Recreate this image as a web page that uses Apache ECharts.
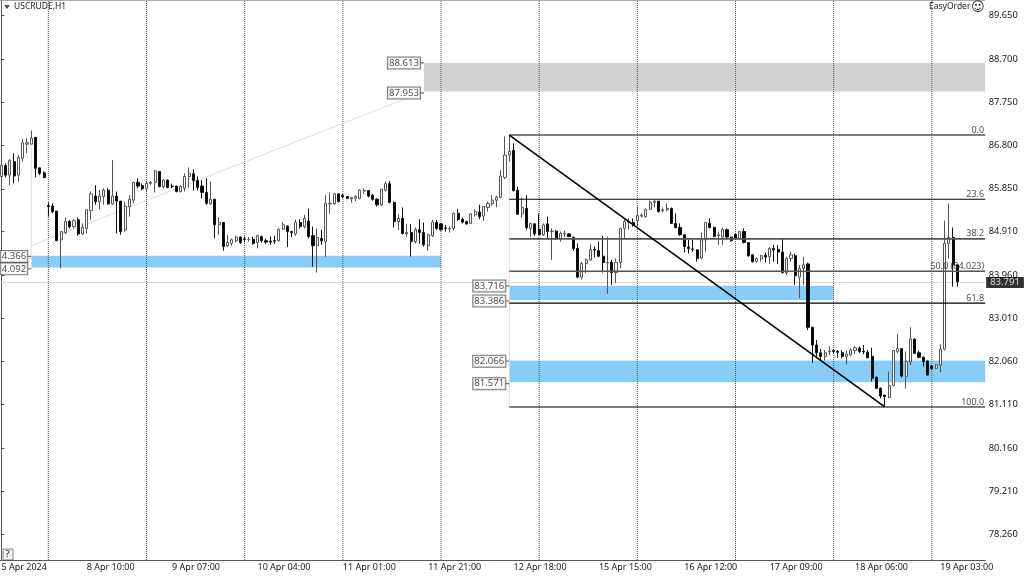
<!DOCTYPE html>
<html><head><meta charset="utf-8">
<style>html,body{margin:0;padding:0;background:#fff;overflow:hidden;width:1024px;height:576px}#c{position:absolute;left:-3px;top:0;width:1027px;height:576px}</style>
<script src="https://cdn.jsdelivr.net/npm/echarts@6/dist/echarts.min.js"></script>
</head><body><div id="c"></div>
<script>
const opens=[86.12,86.36,86.15,86.45,86.15,86.52,86.83,86.83,86.98,86.31,86.20,85.48,85.47,85.36,84.73,84.89,85.13,85.02,85.17,84.86,84.98,85.37,85.69,85.57,85.68,85.82,85.52,85.69,85.58,84.95,85.46,85.60,85.99,85.92,85.86,85.97,85.99,86.23,85.90,86.04,85.91,85.91,85.79,85.86,86.12,86.18,86.03,85.91,85.77,85.52,85.62,85.06,85.11,84.60,84.65,84.71,84.79,84.75,84.74,84.74,84.67,84.80,84.71,84.70,84.71,84.71,84.96,85.03,84.91,84.86,85.11,85.02,85.14,84.82,84.60,84.76,84.69,85.52,85.52,85.74,85.71,85.68,85.63,85.64,85.64,85.80,85.81,85.71,85.62,85.50,85.82,85.96,85.55,85.13,85.20,84.86,84.89,84.69,84.95,84.89,84.60,84.82,85.11,85.08,84.99,84.97,84.98,85.31,85.18,85.13,85.09,85.28,85.34,85.25,85.44,85.52,85.60,85.66,86.10,86.59,86.69,85.82,85.30,85.42,84.98,85.08,84.96,84.84,85.08,84.91,84.92,84.76,84.86,84.86,84.79,84.54,83.91,84.21,84.29,84.52,84.49,84.37,84.23,84.24,84.01,84.23,84.98,85.11,85.11,85.15,85.25,85.24,85.40,85.55,85.58,85.37,85.39,85.42,85.09,85.00,84.84,84.57,84.53,84.51,84.33,84.73,85.09,85.00,84.82,84.79,84.95,84.79,84.85,84.76,84.91,84.67,84.40,84.26,84.31,84.39,84.36,84.54,84.52,84.46,84.01,84.32,84.38,83.91,84.10,84.20,82.81,82.42,82.25,82.17,82.27,82.30,82.28,82.25,82.17,82.20,82.30,82.35,82.28,82.26,82.17,81.71,81.47,81.32,81.27,81.53,82.28,82.34,81.73,82.05,82.55,82.25,82.15,82.07,81.96,81.91,81.98,82.33,84.65,84.78,84.18];
const closes=[86.37,86.15,86.47,86.13,86.54,86.86,86.86,86.96,86.30,86.19,86.10,85.46,85.35,84.71,84.91,85.13,85.02,85.15,84.86,85.00,85.39,85.74,85.57,85.69,85.82,85.52,85.69,85.58,84.91,85.47,85.62,85.99,85.91,85.85,85.97,85.99,86.24,85.90,86.04,85.88,85.90,85.79,85.90,86.12,86.19,86.03,85.88,85.77,85.53,85.62,85.06,85.11,84.58,84.67,84.73,84.79,84.67,84.74,84.74,84.65,84.82,84.71,84.68,84.68,84.70,84.96,85.06,84.91,84.89,85.11,85.02,85.20,84.80,84.60,84.78,84.71,85.53,85.53,85.74,85.57,85.68,85.64,85.66,85.68,85.82,85.81,85.69,85.62,85.50,85.84,85.96,85.55,85.13,85.20,84.87,84.89,84.69,84.96,84.89,84.62,84.84,85.12,84.98,84.95,84.98,84.98,85.31,85.18,85.12,85.08,85.30,85.35,85.24,85.46,85.53,85.60,85.66,86.13,86.59,86.67,85.81,85.29,85.44,85.00,85.09,84.86,84.84,85.06,84.91,84.92,84.76,84.87,84.87,84.80,84.54,83.91,84.21,84.29,84.52,84.51,84.37,84.23,84.23,84.01,84.23,84.98,85.13,85.13,85.06,85.26,85.27,85.40,85.55,85.58,85.35,85.39,85.42,85.09,85.00,84.84,84.58,84.54,84.52,84.32,84.73,85.11,85.00,84.80,84.84,84.96,84.79,84.71,84.76,84.91,84.67,84.38,84.25,84.32,84.38,84.35,84.54,84.51,84.46,84.01,84.32,84.40,83.94,84.10,84.18,82.81,82.42,82.25,82.17,82.25,82.28,82.28,82.26,82.17,82.22,82.31,82.36,82.28,82.27,82.14,81.69,81.47,81.30,81.29,81.53,82.30,82.34,81.74,82.06,82.55,82.24,82.15,82.06,81.76,81.90,81.98,82.33,84.65,84.78,84.18,83.81];
const lows=[86.01,86.10,85.93,85.97,86.01,86.45,86.63,86.83,86.10,86.15,86.08,85.24,85.31,84.71,84.10,84.86,84.98,84.98,84.82,84.84,84.87,85.17,85.50,85.40,85.50,85.50,85.50,84.87,84.84,84.91,85.24,85.53,85.86,85.82,85.79,85.93,85.77,85.88,85.86,85.86,85.86,85.77,85.77,85.79,85.86,85.81,85.82,85.64,85.50,85.50,84.76,84.84,84.49,84.57,84.60,84.67,84.64,84.67,84.69,84.62,84.54,84.67,84.64,84.62,84.64,84.69,84.95,84.57,84.79,84.82,84.98,84.98,84.76,84.14,84.01,84.62,84.35,85.30,85.50,85.55,85.64,85.62,85.55,85.58,85.62,85.74,85.66,85.59,85.46,85.47,85.79,85.53,85.00,84.95,84.84,84.80,84.36,84.65,84.64,84.58,84.49,84.79,84.95,84.93,84.91,84.89,84.93,85.15,85.09,85.06,85.08,85.24,85.18,85.15,85.35,85.47,85.44,85.64,86.06,86.45,85.79,85.28,85.22,84.95,84.79,84.82,84.84,84.82,84.74,84.29,84.73,84.69,84.79,84.79,84.49,83.89,83.86,84.00,84.27,84.35,84.35,84.01,83.54,83.74,83.78,84.10,84.76,84.96,85.02,85.03,85.22,85.22,85.39,85.44,85.33,85.33,85.36,85.08,84.98,84.82,84.45,84.43,84.47,84.25,84.30,84.47,84.98,84.79,84.62,84.62,84.76,84.69,84.74,84.74,84.65,84.36,84.23,84.23,84.25,84.23,84.20,84.25,84.20,83.99,83.96,84.25,83.74,83.45,83.74,82.75,82.03,82.13,82.09,82.08,82.20,82.24,82.14,82.13,82.00,82.19,82.22,82.24,82.22,82.13,81.62,81.45,81.25,81.07,81.25,81.51,82.24,81.71,81.46,81.98,82.22,82.13,81.95,81.75,81.87,81.89,81.82,82.30,84.32,83.70,83.70];
const highs=[86.41,86.41,86.50,86.63,86.59,86.94,86.96,87.13,86.98,86.31,86.23,85.55,85.53,85.36,84.91,85.22,85.17,85.18,85.22,85.09,85.40,85.79,85.93,85.82,85.86,85.86,86.48,85.79,85.58,85.57,85.71,86.01,86.08,85.97,86.01,86.02,86.26,86.23,86.06,86.06,85.96,85.91,85.93,86.19,86.32,86.28,86.12,86.04,86.08,86.01,85.62,85.22,85.11,84.84,84.76,84.82,84.80,84.80,84.79,84.79,84.84,84.82,84.76,84.80,84.82,84.98,85.11,85.05,84.93,85.17,85.18,85.28,85.42,85.02,84.98,84.95,85.71,85.77,85.75,85.74,85.74,85.69,85.66,85.71,85.84,85.86,85.82,85.74,85.64,85.85,86.01,86.02,85.57,85.30,85.44,85.08,85.08,85.00,85.18,85.11,84.87,85.17,85.17,85.09,85.06,85.03,85.33,85.41,85.22,85.15,85.31,85.40,85.50,85.47,85.57,85.71,85.69,86.26,87.00,87.03,86.85,85.90,85.66,85.71,85.09,85.09,85.31,85.09,85.24,84.98,84.95,84.91,84.93,84.87,84.80,84.65,84.25,84.32,84.64,84.59,84.69,84.82,84.80,84.29,84.32,85.00,85.18,85.20,85.20,85.46,85.31,85.42,85.59,85.60,85.58,85.44,85.53,85.44,85.31,85.09,84.84,84.74,84.73,84.52,84.89,85.12,85.20,85.02,84.91,85.00,84.98,84.80,84.87,84.92,84.98,84.68,84.41,84.34,84.40,84.45,84.57,84.62,84.62,84.76,84.36,84.47,84.43,84.18,84.36,84.23,82.81,82.53,82.33,82.31,82.39,82.33,82.31,82.31,82.30,82.35,82.39,82.39,82.42,82.31,82.36,81.73,81.49,81.32,81.84,82.31,82.66,82.35,82.28,82.81,82.57,82.30,82.17,82.08,81.98,82.00,82.44,85.15,85.53,85.00,84.18];
const timeLabels=['5 Apr 2024','8 Apr 10:00','9 Apr 07:00','10 Apr 04:00','11 Apr 01:00','11 Apr 21:00','12 Apr 18:00','15 Apr 15:00','16 Apr 12:00','17 Apr 09:00','18 Apr 06:00','19 Apr 03:00'];
const priceTicks=[78.26,79.21,80.16,81.11,82.06,83.01,83.96,84.91,85.85,86.80,87.75,88.70,89.65];
const gridBars=[11,34,57,80,103,126,149,172,195,218];
const slotCount=231, rightEdge=230.5;
const yMin=77.70, yMax=89.973;
const lastPrice=83.791;
const fibStart=119, fibEnd=207;
const fibLevels=[87.03,85.62,84.75,84.04,83.34,81.06];
const fibTexts=['0.0','23.6','38.2','50.0 (84.023)','61.8','100.0'];
const fibSoft=[true,false,true,true,false,false];
const zones=[
  {from:99,to:rightEdge,top:88.62,bottom:87.985,color:'#d3d3d3',topPrice:88.613,bottomPrice:87.953,topText:'88.613',bottomText:'87.953'},
  {from:7,to:103,top:84.38,bottom:84.12,color:'#87cdfa',topPrice:84.366,bottomPrice:84.092,topText:'4.366',bottomText:'4.092'},
  {from:119,to:195,top:83.72,bottom:83.41,color:'#87cdfa',topPrice:83.716,bottomPrice:83.386,topText:'83.716',bottomText:'83.386'},
  {from:119,to:rightEdge,top:82.08,bottom:81.60,color:'#87cdfa',topPrice:82.066,bottomPrice:81.571,topText:'82.066',bottomText:'81.571'}];

const FONT='"Noto Sans"';
const OX=3;
const categories=Array.from({length:slotCount},(_,i)=>(i%20===0&&timeLabels[i/20])||'');
const candles=opens.map((o,i)=>[o,closes[i],lows[i],highs[i]]);

function seg(pts,color,width,z,type){
  return {type:'line',xAxisIndex:1,yAxisIndex:0,data:pts,symbol:'none',silent:true,animation:false,z:z,
    lineStyle:{color:color,width:width,type:type||'solid'}};
}
const series=[];
gridBars.forEach(b=>series.push(seg([[b,yMin],[b,yMax]],'#555',1,1,'dotted')));
series.push({type:'line',xAxisIndex:1,yAxisIndex:0,data:[],symbol:'none',silent:true,animation:false,z:2,
  markArea:{silent:true,data:zones.map(q=>[{coord:[q.from,q.top],itemStyle:{color:q.color,opacity:1}},{coord:[q.to,q.bottom]}])}});
series.push(seg([[-0.5,lastPrice],[rightEdge,lastPrice]],'#d8d8d8',1,3));
series.push(seg([[7,84.6],[99,87.985]],'#dedede',1,3));
series.push(seg([[7,87.13],[7,84.12]],'#cfe6ee',1,3));
series.push(seg([[fibStart,fibLevels[0]],[fibStart,fibLevels[5]]],'#dddddd',1,3));
series.push({type:'candlestick',xAxisIndex:0,yAxisIndex:0,data:candles,barWidth:2.6,animation:false,silent:true,z:5,
  itemStyle:{color:'#ffffff',color0:'#000000',borderColor:'#555555',borderColor0:'#111111',borderWidth:1}});
fibLevels.forEach((p,i)=>series.push(seg([[fibStart,p],[rightEdge,p]],fibSoft[i]?'#555':'#000',fibSoft[i]?1.6:1.1,6)));
series.push(seg([[fibStart,fibLevels[0]],[fibEnd,fibLevels[5]]],'#000',1.6,6));
const tags=[];
zones.forEach(q=>{
  tags.push([q.from,q.topPrice,q.topText]);tags.push([q.from,q.bottomPrice,q.bottomText]);
  series.push(seg([[q.from-1,q.topPrice],[q.from,q.topPrice]],'#555',1,7));
  series.push(seg([[q.from-1,q.bottomPrice],[q.from,q.bottomPrice]],'#555',1,7));
});
series.push({type:'scatter',xAxisIndex:1,yAxisIndex:0,data:tags,symbolSize:0,silent:true,animation:false,z:8,
  label:{show:true,position:'left',distance:4,formatter:p=>p.value[2],color:'#222',fontFamily:FONT,fontSize:9.6,
    backgroundColor:'#fff',borderColor:'#555',borderWidth:1,padding:[1,1,0,1]}});
series.push({type:'scatter',xAxisIndex:1,yAxisIndex:0,data:fibLevels.map((p,i)=>[rightEdge,p,fibTexts[i]]),symbolSize:0,silent:true,animation:false,z:8,
  label:{show:true,position:'left',distance:1,offset:[0,-5],formatter:p=>p.value[2],color:'#222',fontFamily:FONT,fontSize:9}});
series.push({type:'scatter',xAxisIndex:1,yAxisIndex:0,data:[[rightEdge,lastPrice,lastPrice.toFixed(3)]],symbolSize:0,silent:true,animation:false,z:9,
  label:{show:true,position:'right',distance:1,formatter:p=>p.value[2],color:'#fff',fontFamily:FONT,fontSize:9.5,backgroundColor:'#000',padding:[1,4,0,4]}});

const chart=echarts.init(document.getElementById('c'),null,{renderer:'canvas'});
chart.setOption({
  animation:false,backgroundColor:'#fff',
  grid:{left:2.27,top:1,width:985.9,height:559,containLabel:false},
  xAxis:[
    {type:'category',data:categories,boundaryGap:true,
     axisLine:{show:true,lineStyle:{color:'#555',width:1}},axisTick:{show:false},splitLine:{show:false},
     axisLabel:{show:true,interval:i=>i%20===0,align:'left',margin:3,color:'#222',fontFamily:FONT,fontSize:9,hideOverlap:false}},
    {type:'value',min:-0.5,max:rightEdge,show:false,splitLine:{show:false}}],
  yAxis:[{type:'value',position:'right',min:yMin,max:yMax,
     axisLine:{show:true,lineStyle:{color:'#555',width:1}},splitLine:{show:false},
     axisTick:{show:true,length:3,customValues:priceTicks,lineStyle:{color:'#555'}},
     axisLabel:{show:true,customValues:priceTicks,margin:3.5,color:'#222',fontFamily:FONT,fontSize:9.3,formatter:v=>(+v).toFixed(3)}}],
  series:series,
  graphic:[
    {type:'line',silent:true,shape:{x1:OX+1.5,y1:0,x2:OX+1.5,y2:560},style:{stroke:'#555',lineWidth:1}},
    {type:'line',silent:true,shape:{x1:OX,y1:0.5,x2:OX+985,y2:0.5},style:{stroke:'#aaa',lineWidth:1}},
    {type:'polygon',silent:true,shape:{points:[[OX+4,5],[OX+10,5],[OX+7,9]]},style:{fill:'#555'}},
    {type:'text',silent:true,x:OX+14,y:2,style:{text:'USCRUDE,H1',fill:'#222',font:'8.5px '+FONT}},
    {type:'text',silent:true,x:OX+929,y:2,style:{text:'EasyOrder',fill:'#222',font:'8.5px '+FONT}},
    {type:'text',silent:true,x:OX+971,y:1,style:{text:'☺',fill:'#222',font:'13px "DejaVu Sans"'}},
    {type:'rect',silent:true,shape:{x:OX+3,y:549,width:10,height:11},style:{fill:'#f0f0f0',stroke:'#888',lineWidth:1}},
    {type:'text',silent:true,x:OX+5.5,y:549,style:{text:'?',fill:'#222',font:'9.5px '+FONT}}
  ]
});
</script></body></html>
